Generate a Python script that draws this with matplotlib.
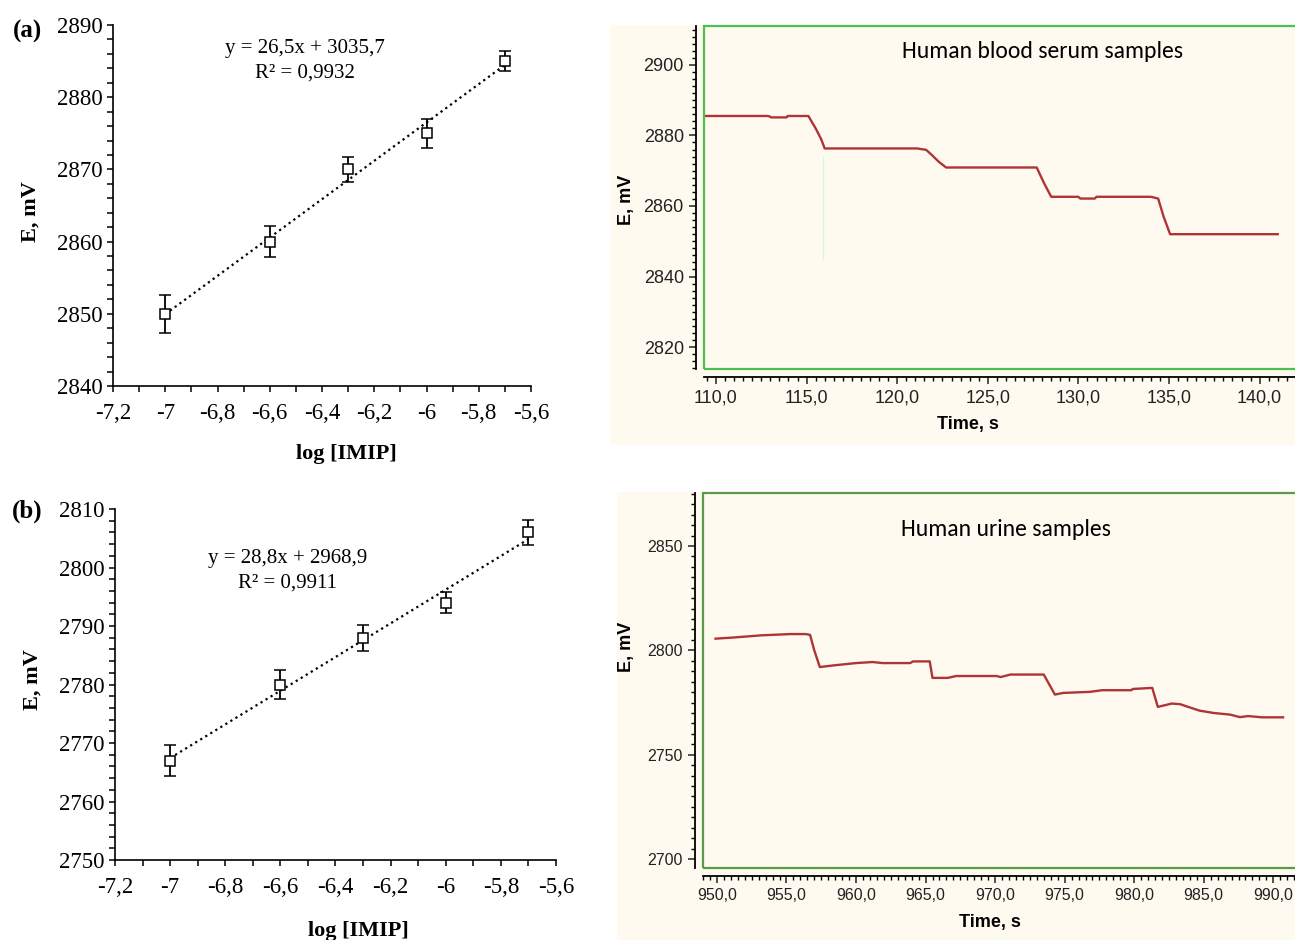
# calibration plots (left) and potential-time recordings (right)

import numpy as np
import matplotlib.pyplot as plt
from matplotlib.patches import Rectangle
from matplotlib.ticker import MultipleLocator, FuncFormatter

# calibration data
log_imip = [-7, -6.6, -6.3, -6, -5.7]
e_serum = [2850, 2860, 2870, 2875, 2885]
err_serum = [2.6, 2.1, 1.7, 2.0, 1.4]
e_urine = [2767, 2780, 2788, 2794, 2806]
err_urine = [2.6, 2.4, 2.2, 1.85, 2.1]
eq_serum = ["y = 26,5x + 3035,7", "R² = 0,9932"]
eq_urine = ["y = 28,8x + 2968,9", "R² = 0,9911"]

# recorded traces
t_serum = [109.4, 112.9, 113.05, 113.9, 113.95, 115.1, 115.5, 115.8, 116.0, 121.1,
           121.6, 121.9, 122.3, 122.7, 127.7, 128.1, 128.5, 130.0, 130.1, 130.9,
           131.0, 134.0, 134.4, 134.7, 135.06, 141.0]
v_serum = [2885.5, 2885.5, 2885.1, 2885.1, 2885.5, 2885.5, 2882.0, 2879.0, 2876.3, 2876.3,
           2875.9, 2874.5, 2872.5, 2870.9, 2870.9, 2866.5, 2862.6, 2862.6, 2862.1, 2862.1,
           2862.6, 2862.6, 2862.1, 2857.0, 2852.0, 2852.0]
t_glitch = [115.9, 115.9]
v_glitch = [2874, 2845]

t_urine = [949.9, 951.3, 953.2, 955.3, 956.4, 956.7, 957.0, 957.4, 958.4, 960.0,
           961.2, 961.9, 963.9, 964.1, 965.3, 965.5, 966.6, 967.2, 970.1, 970.4,
           971.1, 973.5, 974.3, 974.9, 976.8, 977.7, 979.8, 979.9, 981.3, 981.7,
           982.7, 983.3, 984.7, 985.7, 986.9, 987.6, 988.2, 989.2, 990.7]
v_urine = [2805.6, 2806.2, 2807.2, 2807.8, 2807.8, 2807.4, 2800.0, 2792.0, 2792.8, 2793.9,
           2794.4, 2793.9, 2793.9, 2794.7, 2794.7, 2786.8, 2786.8, 2787.7, 2787.7, 2787.2,
           2788.4, 2788.4, 2778.8, 2779.6, 2780.1, 2780.9, 2780.9, 2781.5, 2782.0, 2772.9,
           2774.5, 2774.2, 2771.1, 2770.0, 2769.2, 2768.0, 2768.5, 2767.9, 2767.9]

W, H = 1295, 940
SERIF = ['Liberation Serif', 'DejaVu Serif']
NARROW = ['Liberation Sans Narrow', 'Liberation Sans', 'DejaVu Sans']
SANS = ['Liberation Sans', 'DejaVu Sans']
CALIBRI = ['Carlito', 'Lato', 'DejaVu Sans']
CREAM = '#FFFAF0'
TRACE = '#AD3535'


def px_rect(x0, y0, x1, y1):
    # pixel box (top-left origin) -> figure fraction [l, b, w, h]
    return [x0 / W, (H - y1) / H, (x1 - x0) / W, (y1 - y0) / H]


def fig_pt(x, y):
    return x / W, (H - y) / H


def comma(fmt):
    return FuncFormatter(lambda v, p: (fmt % v).replace('.', ','))


def calib_panel(fig, box, x, y, err, ylim, eq, eq_xy, tag, tag_xy, xl_xy, yl_xy):
    ax = fig.add_axes(px_rect(*box))
    k, b = np.polyfit(x, y, 1)
    xs = np.array([x[0], x[-1]])
    ax.plot(xs, k * xs + b, color='black', ls=':', lw=1.6, zorder=2)
    ax.errorbar(x, y, yerr=err, fmt='s', ms=7.5, mfc='white', mec='black', mew=1.1,
                ecolor='black', elinewidth=1.3, capsize=4, capthick=1.3, zorder=3)
    ax.set_xlim(-7.2, -5.6)
    ax.set_ylim(*ylim)
    ax.xaxis.set_major_locator(MultipleLocator(0.2))
    ax.xaxis.set_minor_locator(MultipleLocator(0.1))
    ax.yaxis.set_major_locator(MultipleLocator(10))
    ax.yaxis.set_minor_locator(MultipleLocator(2))
    ax.xaxis.set_major_formatter(comma('%g'))
    for s in ['top', 'right']:
        ax.spines[s].set_visible(False)
    for s in ['left', 'bottom']:
        ax.spines[s].set_linewidth(1.2)
    ax.tick_params(which='both', direction='out', length=4, width=1.1)
    ax.tick_params(axis='x', pad=8)
    for lab in ax.get_xticklabels() + ax.get_yticklabels():
        lab.set_family(SERIF)
        lab.set_fontsize(16.5)
    fig.text(*fig_pt(*eq_xy), eq[0], family=SERIF, fontsize=15, ha='center', va='center')
    fig.text(*fig_pt(eq_xy[0], eq_xy[1] + 24), eq[1], family=SERIF, fontsize=15,
             ha='center', va='center')
    fig.text(*fig_pt(*tag_xy), tag, family=SERIF, fontsize=18, weight='bold',
             ha='center', va='center')
    fig.text(*fig_pt(*xl_xy), 'log [IMIP]', family=SERIF, fontsize=16, weight='bold',
             ha='center', va='center')
    fig.text(*fig_pt(*yl_xy), 'E, mV', family=SERIF, fontsize=16, weight='bold',
             ha='center', va='center', rotation=90)
    return ax


def trace_panel(fig, bg, box, t, v, xlim, ylim, ymaj, ymin, frame_col, title, title_xy,
                xl_xy, yl_xy, tick_fs):
    fig.patches.append(Rectangle(fig_pt(bg[0], bg[3]), (bg[2] - bg[0]) / W,
                                 (bg[3] - bg[1]) / H, transform=fig.transFigure,
                                 facecolor=CREAM, edgecolor='none', zorder=-1))
    ax = fig.add_axes(px_rect(*box))
    ax.set_facecolor(CREAM)
    ax.plot(t, v, color=TRACE, lw=1.7, zorder=3)
    ax.set_xlim(*xlim)
    ax.set_ylim(*ylim)
    ax.xaxis.set_major_locator(MultipleLocator(5))
    ax.xaxis.set_minor_locator(MultipleLocator(0.5))
    ax.yaxis.set_major_locator(MultipleLocator(ymaj))
    ax.yaxis.set_minor_locator(MultipleLocator(ymin))
    ax.xaxis.set_major_formatter(comma('%.1f'))
    ax.yaxis.set_major_formatter(comma('%d'))
    for s in ['top', 'right']:
        ax.spines[s].set_visible(False)
    for s in ['left', 'bottom']:
        ax.spines[s].set_position(('outward', 6))
        ax.spines[s].set_linewidth(1.3)
    ax.add_patch(Rectangle((0, 0), 1, 1, transform=ax.transAxes, fill=False,
                           edgecolor=frame_col, lw=1.6, clip_on=False, zorder=4))
    ax.tick_params(which='major', direction='out', length=5, width=1.1, labelsize=tick_fs,
                   colors='#222222')
    ax.tick_params(which='minor', direction='out', length=3, width=1.0)
    for lab in ax.get_xticklabels() + ax.get_yticklabels():
        lab.set_family(NARROW)
    fig.text(*fig_pt(*title_xy), title, family=CALIBRI, fontsize=17,
             ha='center', va='center')
    fig.text(*fig_pt(*xl_xy), 'Time, s', family=SANS, fontsize=13, weight='bold',
             ha='center', va='center')
    fig.text(*fig_pt(*yl_xy), 'E, mV', family=SANS, fontsize=13, weight='bold',
             ha='center', va='center', rotation=90)
    return ax


if __name__ == "__main__":
    fig = plt.figure(figsize=(W / 100, H / 100), dpi=100)
    fig.patch.set_facecolor('white')

    calib_panel(fig, (113, 25, 531, 386), log_imip, e_serum, err_serum, (2840, 2890),
                eq_serum, (305, 49), '(a)', (27, 31), (346, 454), (31, 212))
    calib_panel(fig, (115, 509, 556, 860), log_imip, e_urine, err_urine, (2750, 2810),
                eq_urine, (288, 559), '(b)', (27, 511), (358, 931), (33, 680))

    ax = trace_panel(fig, (610, 25, 1295, 445), (704, 26, 1314, 369), t_serum, v_serum,
                     (109.34, 143.0), (2813.8, 2911.0), 20, 2, '#4CC050',
                     'Human blood serum samples', (1042, 51), (968, 424), (627, 200), 13)
    ax.plot(t_glitch, v_glitch, color='#DDF5D6', lw=1.0, zorder=2)
    trace_panel(fig, (617, 492, 1295, 940), (703, 493, 1315, 868), t_urine, v_urine,
                (949.0, 993.0), (2695.7, 2875.4), 50, 5, '#5A9A48',
                'Human urine samples', (1006, 530), (990, 922), (627, 647), 11.5)

    fig.savefig('out.png', dpi=100)
